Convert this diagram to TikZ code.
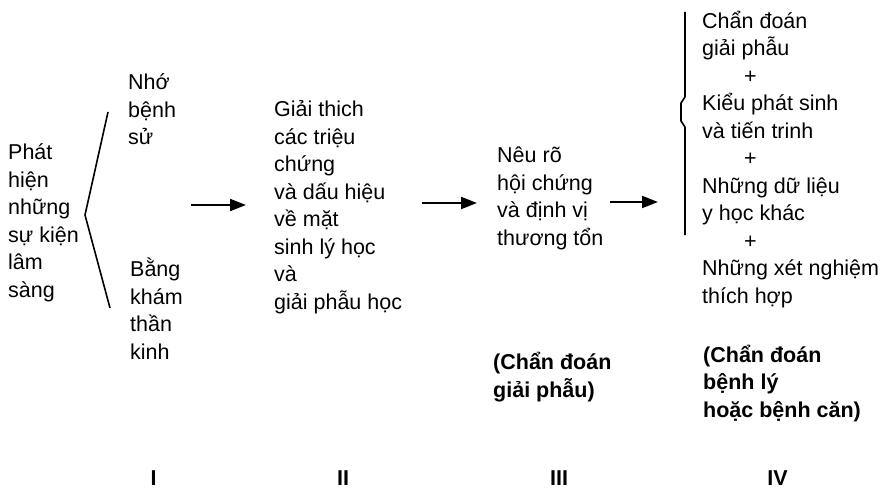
\documentclass[tikz,border=0pt]{standalone}
\usepackage{fontspec}
\setmainfont{Liberation Sans}
\usetikzlibrary{arrows.meta}
\begin{document}
\begin{tikzpicture}[x=1pt,y=-1pt,
  txt/.style={anchor=base west, inner sep=0pt, align=left, font=\fontsize{21.5}{27.5}\selectfont},
  btxt/.style={txt, font=\fontsize{21.5}{27.5}\selectfont\bfseries},
  num/.style={anchor=base, inner sep=0pt, font=\fontsize{21.5}{27.5}\selectfont\bfseries},
  arr/.style={line width=2pt, -{Triangle[length=16pt,width=12pt]}},
  brk/.style={line width=1.6pt, line join=round}]
\useasboundingbox (0,0) rectangle (885,489);
% column I (anchors are at the baseline of the last line)
\node[txt] (c1) at (8,297) {Phát\\hiện\\những\\sự kiện\\lâm\\sàng};
\node[txt] (c1a) at (128,145) {Nhớ\\bệnh\\sử};
\node[txt] (c1b) at (130,359) {Bằng\\khám\\thần\\kinh};
\coordinate (bt) at (108,112);
\coordinate (bv) at (85,215);
\coordinate (bb) at (110,308);
\draw[brk] (bt) -- (bv) -- (bb);
% column II
\node[txt] (c2) at (274,309) {Giải thich\\các triệu\\chứng\\và dấu hiệu\\về mặt\\sinh lý học\\và\\giải phẫu học};
% column III
\node[txt] (c3) at (497,245) {Nêu rõ\\hội chứng\\và định vị\\thương tổn};
\node[btxt] (c3b) at (493,397) {(Chẩn đoán\\giải phẫu)};
% column IV
\node[txt] (c4) at (702,303) {Chẩn đoán\\giải phẫu\\\hspace*{42pt}+\\Kiểu phát sinh\\và tiến trinh\\\hspace*{42pt}+\\Những dữ liệu\\y học khác\\\hspace*{42pt}+\\Những xét nghiệm\\thích hợp};
\node[btxt] (c4b) at (703,417) {(Chẩn đoán\\bệnh lý\\hoặc bệnh căn)};
\draw[brk] (685,12) -- (685,97) -- (681,103) -- (681,121) -- (685,127) -- (685,235);
% arrows
\coordinate (a1s) at (191,205); \coordinate (a1e) at (246,205);
\coordinate (a2s) at (422,203); \coordinate (a2e) at (477,203);
\coordinate (a3s) at (610,202); \coordinate (a3e) at (658,202);
\draw[arr] (a1s) -- (a1e);
\draw[arr] (a2s) -- (a2e);
\draw[arr] (a3s) -- (a3e);
% numerals
\node[num] (n1) at (153.5,485) {I};
\node[num] (n2) at (343,485) {II};
\node[num] (n3) at (559,485) {III};
\node[num] (n4) at (777.5,485) {IV};
\end{tikzpicture}
\end{document}
